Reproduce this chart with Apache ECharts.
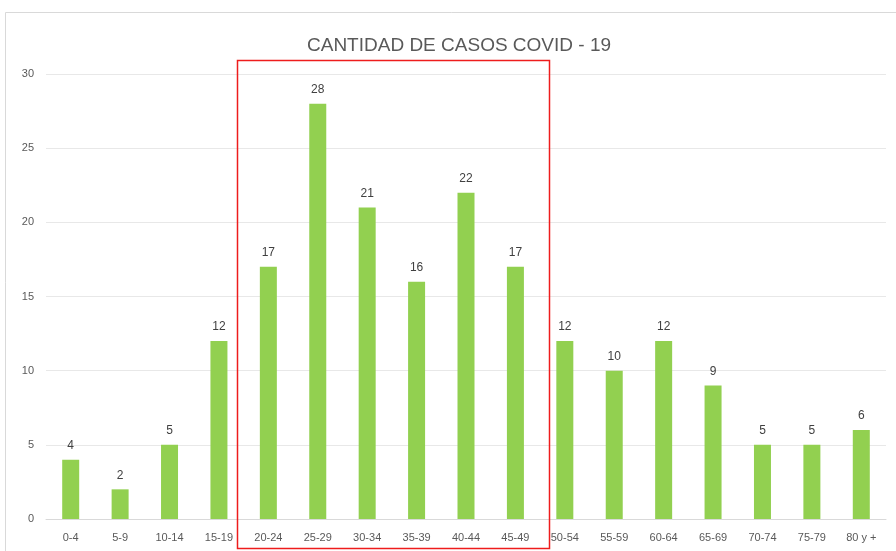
<!DOCTYPE html>
<html>
<head>
<meta charset="UTF-8">
<title>Casos COVID-19</title>
<script src="https://cdn.jsdelivr.net/npm/echarts@6/dist/echarts.min.js"></script>
<style>
  html, body { margin: 0; padding: 0; background: #fff; }
  #main { width: 896px; height: 551px; }
</style>
</head>
<body>
<div id="main"></div>
<script>
var chart = echarts.init(document.getElementById('main'));

// grupos de edad y casos
var ageGroups = ['0-4', '5-9', '10-14', '15-19', '20-24', '25-29', '30-34', '35-39', '40-44', '45-49',
  '50-54', '55-59', '60-64', '65-69', '70-74', '75-79', '80 y +'];
var cases = [4, 2, 5, 12, 17, 28, 21, 16, 22, 17, 12, 10, 12, 9, 5, 5, 6];
var yTicks = [0, 5, 10, 15, 20, 25, 30];
// rango resaltado
var highlightFrom = '20-24';
var highlightTo = '45-49';

var font = 'Liberation Sans';

var option = {
  animation: false,
  backgroundColor: '#fff',
  title: {
    text: 'CANTIDAD DE CASOS COVID - 19',
    left: 302,
    top: 31,
    textStyle: { fontFamily: font, fontSize: 19, fontWeight: 'normal', color: '#595959' }
  },
  grid: { left: 46, right: 10, top: 74, bottom: 32 },
  xAxis: {
    type: 'category',
    data: ageGroups,
    axisLine: { lineStyle: { color: '#d9d9d9' } },
    axisTick: { show: false },
    axisLabel: { color: '#595959', fontFamily: font, fontSize: 11, margin: 13, interval: 0 }
  },
  yAxis: {
    type: 'value',
    min: yTicks[0],
    max: yTicks[yTicks.length - 1],
    interval: 5,
    axisLine: { show: false },
    axisTick: { show: false },
    axisLabel: { color: '#595959', fontFamily: font, fontSize: 11, margin: 12 },
    splitLine: { lineStyle: { color: '#e8e8e8' } }
  },
  series: [{
    type: 'bar',
    data: cases,
    barWidth: 17,
    itemStyle: { color: '#92d050' },
    label: {
      show: true,
      position: 'top',
      distance: 8,
      color: '#404040',
      fontFamily: font,
      fontSize: 12
    }
  }]
};
chart.setOption(option);

// marco del gráfico y recuadro rojo
var x1 = chart.convertToPixel({ xAxisIndex: 0 }, highlightFrom);
var x2 = chart.convertToPixel({ xAxisIndex: 0 }, highlightTo);
chart.setOption({
  graphic: [
    {
      type: 'rect',
      shape: { x: 5.5, y: 12.5, width: 900, height: 600 },
      style: { fill: 'none', stroke: '#d9d9d9', lineWidth: 1 },
      silent: true
    },
    {
      type: 'rect',
      shape: { x: Math.round(x1 - 31) + 0.5, y: 60.5, width: Math.round(x2 - x1 + 65), height: 488 },
      style: { fill: 'none', stroke: '#ee1c1c', lineWidth: 1.5 },
      silent: true,
      z: 10
    }
  ]
});
</script>
</body>
</html>
